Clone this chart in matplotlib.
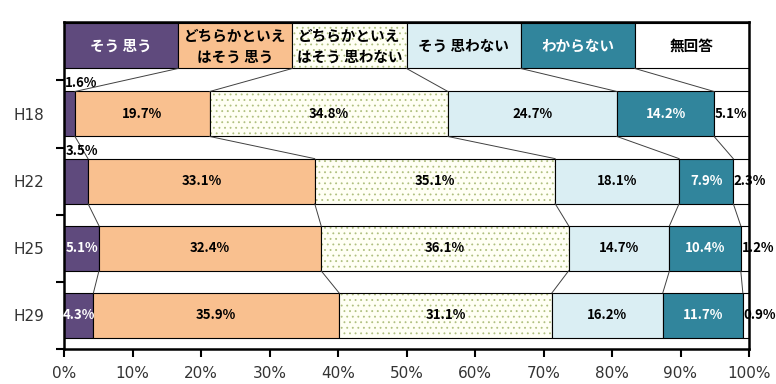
import numpy as np
import matplotlib.pyplot as plt

plt.rcParams['font.family'] = ['Noto Sans CJK JP', 'DejaVu Sans']
plt.rcParams['hatch.linewidth'] = 0.6

# survey years and answer categories
years = ['H18', 'H22', 'H25', 'H29']
answers = ['そう 思う', 'どちらかといえ\nはそう 思う', 'どちらかといえ\nはそう 思わない',
           'そう 思わない', 'わからない', '無回答']

# percentages per year, in answer order
h18 = [1.6, 19.7, 34.8, 24.7, 14.2, 5.1]
h22 = [3.5, 33.1, 35.1, 18.1, 7.9, 2.3]
h25 = [5.1, 32.4, 36.1, 14.7, 10.4, 1.2]
h29 = [4.3, 35.9, 31.1, 16.2, 11.7, 0.9]

colors = ['#5F4A7D', '#F9C08F', '#FFFFF4', '#DAEEF3', '#31859C', '#FFFFFF']
text_colors = ['white', 'black', 'black', 'black', 'white', 'black']

data = np.array([h18, h22, h25, h29])
shares = data / data.sum(axis=1, keepdims=True) * 100
cum = np.hstack([np.zeros((len(years), 1)), np.cumsum(shares, axis=1)])

fig = plt.figure(figsize=(7.76, 3.84), dpi=100)
ax = fig.add_axes([64 / 776, 35 / 384, 685 / 776, 327 / 384])

bar_h = 0.67
ypos = np.arange(len(years))
dots = '...'
dot_color = '#B0C080'

for j in range(len(answers)):
    left = cum[:, j]
    width = shares[:, j]
    if j == 2:
        # dotted fill
        ax.barh(ypos, width, left=left, height=bar_h, color=colors[j],
                hatch=dots, edgecolor=dot_color, linewidth=0)
        ax.barh(ypos, width, left=left, height=bar_h, fill=False,
                edgecolor='black', linewidth=0.8)
    else:
        ax.barh(ypos, width, left=left, height=bar_h, color=colors[j],
                edgecolor='black', linewidth=0.8)

# data labels
for i in range(len(years)):
    for j in range(len(answers)):
        v = data[i, j]
        label = f'{v:.1f}%'
        if j == 0 and v < 4:
            ax.text(cum[i, 0] + 0.2, i - bar_h / 2 - 0.12, label, ha='left', va='center',
                    fontsize=9.5, fontweight='bold', color='black')
        elif j == len(answers) - 1:
            ax.text(cum[i, j] + 0.1, i, label, ha='left', va='center',
                    fontsize=9.5, fontweight='bold', color='black')
        else:
            ax.text(cum[i, j] + shares[i, j] / 2, i, label, ha='center', va='center',
                    fontsize=9.5, fontweight='bold', color=text_colors[j])

# series lines between bars
for i in range(len(years) - 1):
    for k in range(1, len(answers)):
        ax.plot([cum[i, k], cum[i + 1, k]], [i + bar_h / 2, i + 1 - bar_h / 2],
                color='#404040', linewidth=0.7)

# header row acting as legend
head_top, head_bot = -1.348, -0.678
head_w = 100 / len(answers)
for j, name in enumerate(answers):
    x0 = j * head_w
    if j == 2:
        ax.bar(x0, head_bot - head_top, width=head_w, bottom=head_top, align='edge',
               color=colors[j], hatch=dots, edgecolor=dot_color, linewidth=0)
        ax.bar(x0, head_bot - head_top, width=head_w, bottom=head_top, align='edge',
               fill=False, edgecolor='black', linewidth=0.8)
    else:
        ax.bar(x0, head_bot - head_top, width=head_w, bottom=head_top, align='edge',
               color=colors[j], edgecolor='black', linewidth=0.8)
    ax.text(x0 + head_w / 2, (head_top + head_bot) / 2, name, ha='center', va='center',
            fontsize=10.5, fontweight='bold', color=text_colors[j], linespacing=1.35)
    if j > 0:
        ax.plot([x0, cum[0, j]], [head_bot, -bar_h / 2], color='#404040', linewidth=0.7)

ax.set_xlim(0, 100)
ax.set_ylim(3.5, -1.37)
ax.set_xticks(np.arange(0, 101, 10))
ax.set_xticklabels([f'{t}%' for t in range(0, 101, 10)], fontsize=11, color='#333333',
                   family='DejaVu Sans')
ax.set_yticks(ypos)
ax.set_yticklabels(years, fontsize=11, color='#333333', family='DejaVu Sans')
ax.set_yticks(np.arange(-0.5, len(years), 1), minor=True)
ax.tick_params(axis='y', which='major', length=0, pad=14)
ax.tick_params(axis='y', which='minor', length=6, width=1.5, direction='out')
ax.tick_params(axis='x', length=6, width=1.5, direction='out', pad=6)
for s in ax.spines.values():
    s.set_linewidth(1.8)

fig.savefig('out.png', dpi=100)
